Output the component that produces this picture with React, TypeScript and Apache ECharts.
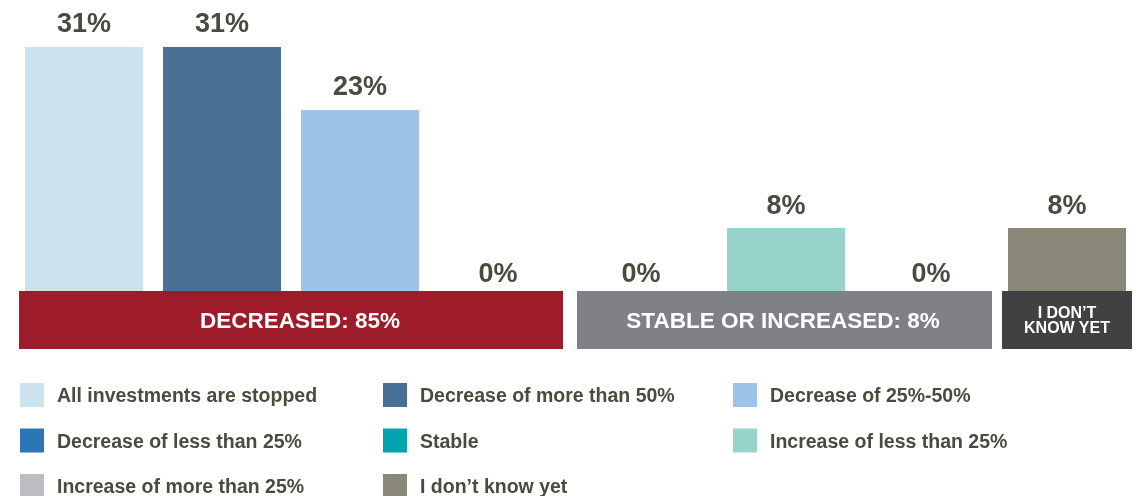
import React, { useEffect, useRef } from "react";
import * as echarts from "echarts";

const categories = [
  "All investments are stopped",
  "Decrease of more than 50%",
  "Decrease of 25%-50%",
  "Decrease of less than 25%",
  "Stable",
  "Increase of less than 25%",
  "Increase of more than 25%",
  "I don’t know yet",
];
const values = [31, 31, 23, 0, 0, 8, 0, 8];
const groupOf = [0, 0, 0, 0, 1, 1, 1, 2];
const groupLabels = ["DECREASED: 85%", "STABLE OR INCREASED: 8%", "I DON’T\nKNOW YET"];
const colors = ["#cce3ef", "#4a6f94", "#9dc3e6", "#2e75b6", "#00a3ae", "#96d3ca", "#bcbdc0", "#8a8878"];
const groupColors = ["#9e1b2a", "#808185", "#414143"];
const legendColumns = [[0, 3, 6], [1, 4, 7], [2, 5]];

const FONT = "'Liberation Sans', Arial, Helvetica, sans-serif";
const TEXT = "#4b4a3e";

const gridLayout = [
  { left: 15, width: 552 },
  { left: 568.5, width: 435 },
  { left: 1002, width: 130 },
];
const boxLayout = [
  { x: 19, w: 544, tx: 300 },
  { x: 577, w: 415, tx: 783 },
  { x: 1002, w: 130, tx: 1067 },
];
const legendLeft = [20, 383, 733];

export default function App() {
  const ref = useRef<HTMLDivElement>(null);
  useEffect(() => {
    if (!ref.current) return;
    const chart = echarts.init(ref.current, null, { renderer: "svg" });
    const groupIdx = groupLabels.map((_, g) => categories.map((_, i) => i).filter((i) => groupOf[i] === g));
    const option: any = {
      animation: false,
      grid: gridLayout.map((gl) => ({ left: gl.left, width: gl.width, top: 15.5, height: 275.5 })),
      xAxis: groupIdx.map((members, g) => ({
        type: "category",
        gridIndex: g,
        data: members.map((i) => categories[i]),
        show: false,
      })),
      yAxis: groupIdx.map((_, g) => ({
        type: "value",
        gridIndex: g,
        min: 0,
        max: 35,
        show: false,
        splitLine: { show: false },
      })),
      legend: legendColumns.map((col, c) => ({
        orient: "vertical",
        left: legendLeft[c],
        top: 383,
        height: 200,
        width: 340,
        padding: 0,
        itemWidth: 24,
        itemHeight: 24,
        itemGap: 21.5,
        icon: "rect",
        selectedMode: false,
        data: col.map((i) => categories[i]),
        textStyle: { fontSize: 19.5, fontWeight: "bold", color: TEXT, fontFamily: FONT, padding: [0, 0, 0, 8] },
      })),
      series: categories.map((name, i) => {
        const g = groupOf[i];
        return {
          type: "bar",
          name,
          xAxisIndex: g,
          yAxisIndex: g,
          barWidth: 118,
          barGap: "-100%",
          itemStyle: { color: colors[i] },
          label: {
            show: true,
            position: "top",
            formatter: "{c}%",
            fontSize: 27,
            fontWeight: "bold",
            color: TEXT,
            fontFamily: FONT,
          },
          data: groupIdx[g].map((j) =>
            j === i ? { value: values[i], label: { distance: values[i] === 0 ? 5 : 10 } } : "-"
          ),
        };
      }),
      graphic: groupLabels.flatMap((txt, g) => [
        {
          type: "rect",
          shape: { x: boxLayout[g].x, y: 291, width: boxLayout[g].w, height: 58 },
          style: { fill: groupColors[g] },
          silent: true,
        },
        {
          type: "text",
          x: boxLayout[g].tx,
          y: 320,
          style: {
            text: txt,
            fill: "#ffffff",
            font: g === 2 ? `bold 16px ${FONT}` : `bold 22.5px ${FONT}`,
            lineHeight: 15,
            textAlign: "center",
            textVerticalAlign: "middle",
            align: "center",
            verticalAlign: "middle",
          },
          silent: true,
        },
      ]),
    };
    chart.setOption(option);
    return () => chart.dispose();
  }, []);
  return <div ref={ref} style={{ position: "fixed", left: 0, top: 0, width: 1142, height: 496 }} />;
}
